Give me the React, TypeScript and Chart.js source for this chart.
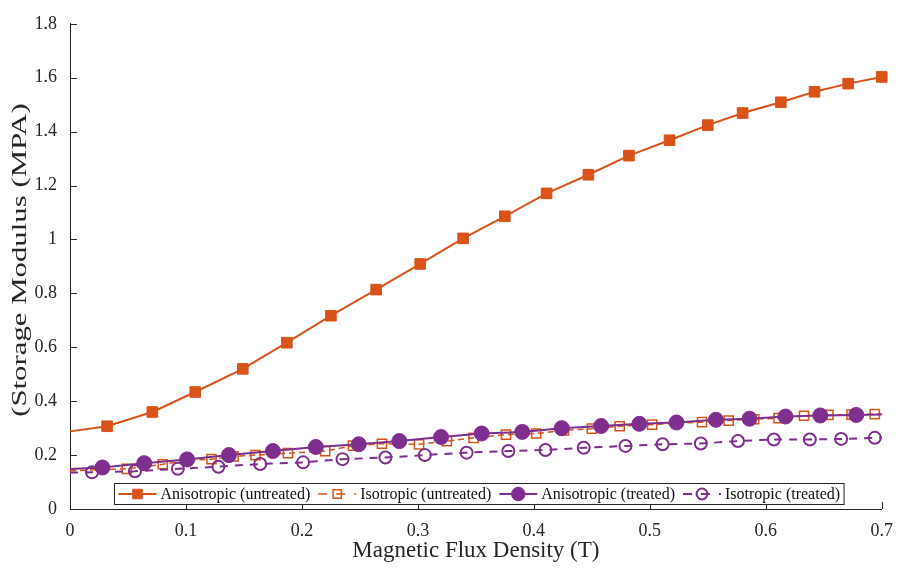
import React, { useEffect, useRef } from "react";
import { Chart, registerables } from "chart.js";

Chart.register(...registerables);

// ---------------- data ----------------
const seriesLabels = [
  "Anisotropic (untreated)",
  "Isotropic (untreated)",
  "Anisotropic (treated)",
  "Isotropic (treated)",
];

const xTicks = [0, 0.1, 0.2, 0.3, 0.4, 0.5, 0.6, 0.7];
const yTicks = [0, 0.2, 0.4, 0.6, 0.8, 1, 1.2, 1.4, 1.6, 1.8];

const xAnisoUntreated = [0, 0.032, 0.071, 0.108, 0.149, 0.187, 0.225, 0.264, 0.302, 0.339, 0.375, 0.411, 0.447, 0.482, 0.517, 0.55, 0.58, 0.613, 0.642, 0.671, 0.7];
const yAnisoUntreated = [0.288, 0.307, 0.36, 0.434, 0.52, 0.617, 0.717, 0.814, 0.909, 1.004, 1.086, 1.171, 1.24, 1.311, 1.368, 1.424, 1.469, 1.509, 1.548, 1.578, 1.603];

const xIsoUntreated = [0, 0.049, 0.08, 0.101, 0.122, 0.141, 0.16, 0.188, 0.22, 0.244, 0.269, 0.301, 0.325, 0.348, 0.376, 0.402, 0.426, 0.45, 0.474, 0.502, 0.523, 0.545, 0.568, 0.59, 0.611, 0.633, 0.654, 0.674, 0.694, 0.7];
const yIsoUntreated = [0.142, 0.149, 0.166, 0.18, 0.185, 0.195, 0.2, 0.207, 0.215, 0.235, 0.242, 0.24, 0.252, 0.264, 0.276, 0.28, 0.292, 0.298, 0.307, 0.313, 0.318, 0.322, 0.328, 0.333, 0.337, 0.346, 0.349, 0.35, 0.352, 0.352];

const xAnisoTreated = [0, 0.028, 0.064, 0.101, 0.137, 0.175, 0.212, 0.249, 0.284, 0.32, 0.355, 0.39, 0.424, 0.458, 0.491, 0.523, 0.557, 0.586, 0.617, 0.647, 0.678, 0.7];
const yAnisoTreated = [0.148, 0.154, 0.17, 0.184, 0.2, 0.215, 0.23, 0.24, 0.252, 0.267, 0.28, 0.286, 0.3, 0.308, 0.316, 0.321, 0.331, 0.335, 0.343, 0.347, 0.349, 0.351];

const xIsoTreated = [0, 0.019, 0.056, 0.093, 0.128, 0.164, 0.201, 0.235, 0.272, 0.306, 0.342, 0.378, 0.41, 0.443, 0.479, 0.511, 0.544, 0.576, 0.607, 0.638, 0.665, 0.694, 0.7];
const yIsoTreated = [0.135, 0.136, 0.14, 0.149, 0.157, 0.167, 0.173, 0.185, 0.191, 0.2, 0.209, 0.215, 0.219, 0.227, 0.234, 0.24, 0.243, 0.252, 0.258, 0.258, 0.26, 0.264, 0.265];

const xTitle = "Magnetic Flux Density (T)";
const yTitle = "(Storage Modulus (MPA)";

// ---------------- styles / layout ----------------
const W = 904;
const H = 572;
const PLOT_LEFT = 70;
const PLOT_RIGHT = 889;
const PLOT_TOP = 16;
const PLOT_BOTTOM = 509;
const ORANGE = "#D95319";
const PURPLE = "#7E2F8E";
const AXIS_COLOR = "#262626";
const FONT = "'Liberation Serif', 'Times New Roman', serif";
const TICK_LEN = 7;

type MarkerSpec = {
  style: "rect" | "circle";
  r: number;
  fill: string;
  stroke: string;
  bw: number;
  dash: number[];
  lw: number;
  color: string;
};

const specs: MarkerSpec[] = [
  { style: "rect", r: 7.5, fill: ORANGE, stroke: ORANGE, bw: 1, dash: [], lw: 2, color: ORANGE },
  { style: "rect", r: 6.5, fill: "rgba(0,0,0,0)", stroke: ORANGE, bw: 1.5, dash: [6, 4], lw: 1.5, color: ORANGE },
  { style: "circle", r: 7.5, fill: PURPLE, stroke: PURPLE, bw: 1, dash: [], lw: 2, color: PURPLE },
  { style: "circle", r: 6, fill: "rgba(0,0,0,0)", stroke: PURPLE, bw: 2, dash: [8, 7], lw: 2, color: PURPLE },
];

function pts(xs: number[], ys: number[]) {
  return xs.map((x, i) => ({ x, y: ys[i] }));
}

function radii(n: number, r: number, skipLast: boolean) {
  return Array.from({ length: n }, (_, i) => (i === 0 || (skipLast && i === n - 1) ? 0 : r));
}

function fmt(v: number) {
  return String(Number(Number(v).toFixed(1)));
}

function drawMarker(ctx: CanvasRenderingContext2D, s: MarkerSpec, x: number, y: number, r: number) {
  ctx.save();
  ctx.setLineDash([]);
  ctx.lineWidth = s.bw;
  ctx.strokeStyle = s.stroke;
  ctx.fillStyle = s.fill;
  ctx.beginPath();
  if (s.style === "rect") {
    const h = Math.SQRT1_2 * r;
    ctx.rect(x - h, y - h, 2 * h, 2 * h);
  } else {
    ctx.arc(x, y, r, 0, Math.PI * 2);
  }
  ctx.fill();
  ctx.stroke();
  ctx.restore();
}

const overlay = {
  id: "overlay",
  afterDraw(chart: any) {
    const ctx: CanvasRenderingContext2D = chart.ctx;
    const xs = chart.scales.x;
    const ys = chart.scales.y;
    const { left, right, bottom } = chart.chartArea;
    ctx.save();

    // inward ticks
    ctx.strokeStyle = AXIS_COLOR;
    ctx.lineWidth = 1;
    ctx.beginPath();
    xTicks.forEach((v) => {
      const p = Math.round(xs.getPixelForValue(v)) + 0.5;
      ctx.moveTo(p, bottom);
      ctx.lineTo(p, bottom - TICK_LEN);
    });
    yTicks.forEach((v) => {
      const p = Math.round(ys.getPixelForValue(v)) + 0.5;
      ctx.moveTo(left, p);
      ctx.lineTo(left + TICK_LEN, p);
    });
    ctx.stroke();

    // axis titles
    ctx.fillStyle = AXIS_COLOR;
    ctx.textAlign = "center";
    ctx.textBaseline = "middle";
    ctx.font = `23px ${FONT}`;
    ctx.fillText(xTitle, (left + right) / 2, 551);
    ctx.save();
    ctx.translate(20, 260);
    ctx.rotate(-Math.PI / 2);
    ctx.scale(1.4, 1);
    ctx.font = `22px ${FONT}`;
    ctx.fillText(yTitle, 0, 0);
    ctx.restore();

    // legend
    ctx.font = `16px ${FONT}`;
    const tokenW = 38;
    const gapTok = 4;
    const gapItem = 8;
    const padL = 4;
    const padR = 4;
    const widths = seriesLabels.map((l) => ctx.measureText(l).width);
    let total = padL + padR;
    widths.forEach((w, i) => {
      total += tokenW + gapTok + w + (i < widths.length - 1 ? gapItem : 0);
    });
    const boxBottom = 504;
    const boxTop = 483;
    const boxLeft = Math.round((left + right) / 2 + 3 - total / 2) + 0.5;
    ctx.fillStyle = "#ffffff";
    ctx.fillRect(boxLeft, boxTop + 0.5, total, boxBottom - boxTop);
    ctx.strokeStyle = AXIS_COLOR;
    ctx.lineWidth = 1;
    ctx.setLineDash([]);
    ctx.strokeRect(boxLeft, boxTop + 0.5, total, boxBottom - boxTop);
    const cy = (boxTop + boxBottom) / 2 + 0.5;
    let x = boxLeft + padL;
    seriesLabels.forEach((label, i) => {
      const s = specs[i];
      ctx.save();
      ctx.strokeStyle = s.color;
      ctx.lineWidth = s.lw;
      ctx.setLineDash(s.dash.length ? [9, 9] : []);
      ctx.beginPath();
      ctx.moveTo(x, cy);
      ctx.lineTo(x + tokenW, cy);
      ctx.stroke();
      ctx.restore();
      drawMarker(ctx, s, x + tokenW / 2, cy, s.r * 0.9);
      x += tokenW + gapTok;
      ctx.fillStyle = "#111111";
      ctx.textAlign = "left";
      ctx.textBaseline = "middle";
      ctx.fillText(label, x, cy + 1);
      x += widths[i] + gapItem;
    });

    ctx.restore();
  },
};

export default function App() {
  const ref = useRef<HTMLCanvasElement | null>(null);

  useEffect(() => {
    document.body.style.margin = "0";
    const canvas = ref.current;
    if (!canvas) return;

    const series = [
      { x: xAnisoUntreated, y: yAnisoUntreated, skipLast: false },
      { x: xIsoUntreated, y: yIsoUntreated, skipLast: true },
      { x: xAnisoTreated, y: yAnisoTreated, skipLast: true },
      { x: xIsoTreated, y: yIsoTreated, skipLast: true },
    ];

    const datasets = series.map((s, i) => {
      const sp = specs[i];
      return {
        label: seriesLabels[i],
        data: pts(s.x, s.y),
        borderColor: sp.color,
        borderWidth: sp.lw,
        borderDash: sp.dash,
        backgroundColor: sp.fill,
        pointStyle: sp.style,
        pointRadius: radii(s.x.length, sp.r, s.skipLast),
        pointBackgroundColor: sp.fill,
        pointBorderColor: sp.stroke,
        pointBorderWidth: sp.bw,
        pointHoverRadius: 0,
        tension: 0,
        fill: false,
        clip: 12,
        order: 3 - i,
      };
    });

    const tickFont = { family: FONT, size: 18 };

    const chart = new Chart(canvas, {
      type: "line",
      data: { datasets: datasets as any },
      options: {
        animation: false,
        responsive: false,
        maintainAspectRatio: false,
        events: [],
        layout: {
          padding: { left: 0, right: W - PLOT_RIGHT, top: PLOT_TOP, bottom: 0 },
        },
        plugins: {
          legend: { display: false },
          tooltip: { enabled: false },
        },
        scales: {
          x: {
            type: "linear",
            min: 0,
            max: 0.7,
            afterFit: (s: any) => {
              s.height = H - PLOT_BOTTOM;
            },
            grid: { display: false, drawTicks: false },
            border: { display: true, color: AXIS_COLOR, width: 1 },
            ticks: {
              stepSize: 0.1,
              padding: 11,
              maxRotation: 0,
              autoSkip: false,
              color: AXIS_COLOR,
              font: tickFont,
              callback: (v: any) => fmt(v),
            },
          },
          y: {
            type: "linear",
            min: 0,
            max: 1.8,
            afterFit: (s: any) => {
              s.width = PLOT_LEFT;
            },
            grid: { display: false, drawTicks: false },
            border: { display: true, color: AXIS_COLOR, width: 1 },
            ticks: {
              stepSize: 0.2,
              padding: 13,
              autoSkip: false,
              color: AXIS_COLOR,
              font: tickFont,
              callback: (v: any) => fmt(v),
            },
          },
        },
      },
      plugins: [overlay],
    });

    return () => chart.destroy();
  }, []);

  return (
    <div style={{ width: W, height: H, background: "#ffffff" }}>
      <canvas ref={ref} width={W} height={H} style={{ display: "block", width: W, height: H }} />
    </div>
  );
}
